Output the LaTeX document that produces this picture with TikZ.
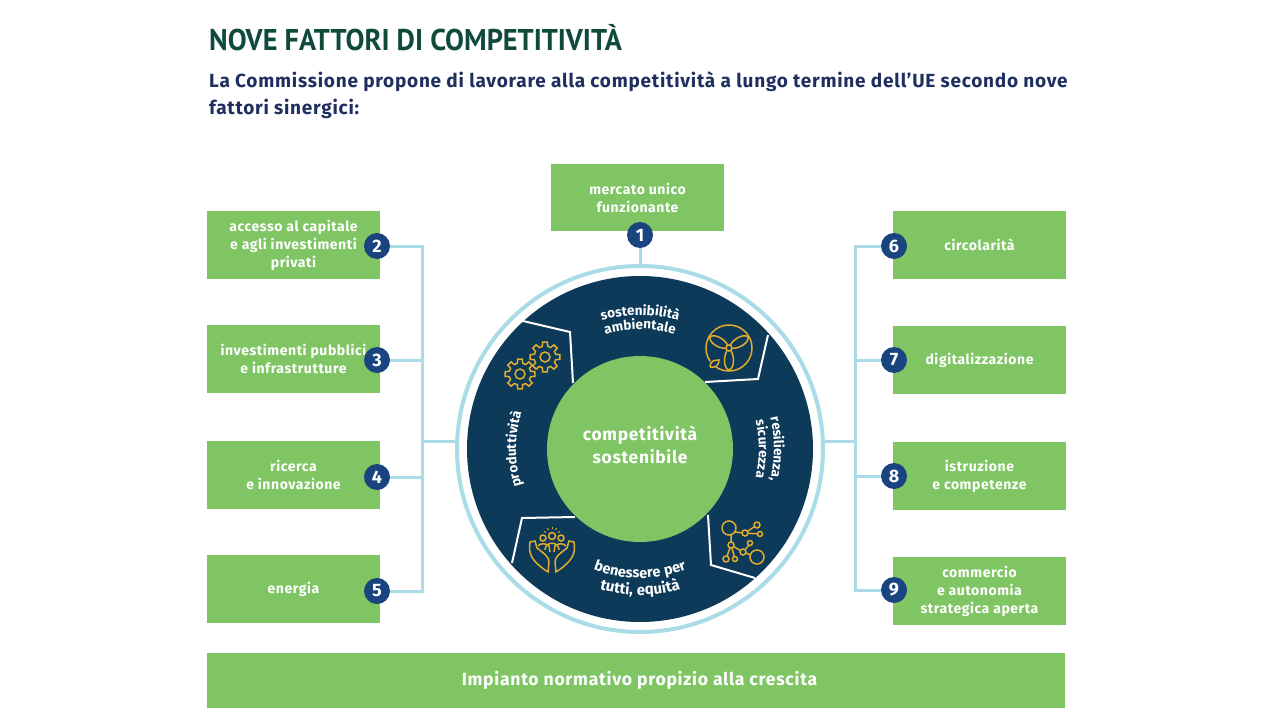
\documentclass[tikz,border=0pt]{standalone}
\usepackage{fontspec}
\usepackage{xcolor}
\usetikzlibrary{decorations.text}
\setmainfont[LetterSpace=4]{Fira Sans}
\newfontfamily\headfont[FakeStretch=0.943]{PT Sans}
\definecolor{leafgreen}{HTML}{80C564}
\definecolor{deepnavy}{HTML}{0E3A5A}
\definecolor{badgeblue}{HTML}{1A4480}
\definecolor{wirecyan}{HTML}{A9DCE6}
\definecolor{iconGold}{HTML}{E0AC2F}
\definecolor{titlegreen}{HTML}{0F4A3C}
\definecolor{leadnavy}{HTML}{1F2F5F}
\newcommand{\boxfont}{\bfseries\fontsize{14}{18}\selectfont}
\newcommand{\arclabel}[5]{
    \path[decorate,decoration={text along path,text color=white,text align=center,
        text={|\bfseries\fontsize{#5}{#5}\selectfont|#4}}]
        (#2:#1) arc[start angle=#2,end angle=#3,radius=#1pt];
}
\begin{document}
\begin{tikzpicture}[x=1pt,y=-1pt,
        factor/.style={fill=leafgreen,text=white,minimum width=173pt,minimum height=68pt,
            inner sep=0pt,align=center,font=\boxfont},
        badge/.style={circle,fill=badgeblue,text=white,minimum size=26pt,inner sep=0pt,
            font=\bfseries\fontsize{18}{18}\selectfont},
        link/.style={draw=wirecyan,line width=3pt},
        separator/.style={draw=white,line width=2pt},
        icon/.style={draw=iconGold,line width=1.5pt}
    ]
    \useasboundingbox (0,0) rectangle (1280,720);
    \fill[white] (0,0) rectangle (1280,720);

    \node[anchor=base west,inner sep=0pt,text=titlegreen,font=\headfont\bfseries\fontsize{30}{30}\selectfont] (title) at (209,50) {NOVE FATTORI DI COMPETITIVITÀ};
    \node[anchor=north west,inner sep=0pt,text=leadnavy,align=left,font=\bfseries\fontsize{19}{27}\selectfont] (lead) at (209,71) {La Commissione propone di lavorare alla competitività a lungo termine dell’UE secondo nove\\fattori sinergici:};

    \node[factor,minimum height=67pt] (market) at (637.5,197.5) {mercato unico\\funzionante};
    \node[factor] (capital) at (293.5,245) {accesso al capitale\\e agli investimenti\\privati};
    \node[factor] (public) at (293.5,359) {investimenti pubblici\\e infrastrutture};
    \node[factor] (research) at (293.5,475) {ricerca\\e innovazione};
    \node[factor] (energy) at (293.5,589) {energia};
    \node[factor] (circular) at (979.5,245) {circolarità};
    \node[factor] (digital) at (979.5,360) {digitalizzazione};
    \node[factor] (skills) at (979.5,476) {istruzione\\e competenze};
    \node[factor] (trade) at (979.5,591) {commercio\\e autonomia\\strategica aperta};
    \node[fill=leafgreen,text=white,minimum width=858pt,minimum height=55pt,inner sep=0pt,font=\bfseries\fontsize{17.6}{17.6}\selectfont] (rules) at (636,680.5) {\hspace*{7pt}Impianto normativo propizio alla crescita};

    \coordinate (leftbus) at (422,441);
    \coordinate (rightbus) at (855,441);

    \node[circle,draw=wirecyan,line width=4pt,fill=white,minimum size=366pt,inner sep=0pt] (ring) at (640,449) {};
    \node[circle,fill=deepnavy,minimum size=346pt,inner sep=0pt] (disk) at (640,449) {};

    \draw[separator] (523,321) -- (570,332) -- (573,383);
    \draw[separator] (768,335) -- (758,379) -- (705,382);
    \draw[separator] (755,578) -- (711,565) -- (708,515);
    \draw[separator] (512,563) -- (522,518) -- (575,517);

    \node[circle,fill=leafgreen,minimum size=186pt,inner sep=0pt] (core) at (640,449) {};
    \node[text=white,inner sep=0pt,align=center,font=\bfseries\fontsize{17.4}{23}\selectfont] (corelabel) at (640,445) {competitività\\sostenibile};

    \begin{scope}[shift={(640,449)},x=1pt,y=1pt]
        \arclabel{134}{125}{55}{sostenibilità}{13.5}
        \arclabel{120}{125}{55}{ambientale}{13.5}
        \arclabel{134}{40}{-40}{resilienza,}{13.5}
        \arclabel{119}{40}{-40}{sicurezza}{13.5}
        \arclabel{129}{230}{310}{benessere per}{14.5}
        \arclabel{146}{235}{305}{tutti, equità}{15}
        \arclabel{124}{220}{140}{produttività}{13.5}
    \end{scope}

    % gears
    \foreach \gx/\gy in {545/357,520/374}{
        \draw[icon,shift={(\gx,\gy)}] (-14:11) \foreach \ang in {0,45,...,315}{
            -- (\ang-14:11) -- (\ang-9:15) -- (\ang+9:15) -- (\ang+14:11)} -- cycle;
        \draw[icon] (\gx,\gy) circle[radius=5pt];
    }

    % turbine
    \draw[icon] (729,348) ++(215:23pt) arc[start angle=215,end angle=-125,radius=23pt];
    \foreach \ang in {30,150,270}{
        \draw[icon,rotate around={\ang:(729,348)}] (729,348) .. controls (735,342) and (749,342) .. (751,348) .. controls (749,354) and (735,354) .. (729,348);
    }
    \draw[icon,fill=deepnavy] (729,348) circle[radius=3pt];
    \draw[icon] (710,367) .. controls (710,361) and (714,360) .. (719,360) .. controls (719,365) and (716,368) .. (710,367);

    % network
    \draw[icon] (735,532) -- (745,533) -- (757,525) (745,533) -- (760,534);
    \draw[icon] (731,535) -- (731,545) -- (726,559) (731,545) -- (735,559);
    \draw[icon] (743,552) -- (750,544) (743,552) -- (751,555) (731,545) -- (743,552);
    \foreach \nx/\ny/\nr in {729/528/7,757/557/7,745/533/3,757/525/3,760/534/2.5,731/545/3,726/559/3,735/559/2.5,743/552/3,750/543/2.5}{
        \draw[icon,fill=deepnavy] (\nx,\ny) circle[radius=\nr pt];
    }

    % hands
    \foreach \side in {1,-1}{
        \begin{scope}[shift={(552,0)},xscale=\side]
            \draw[icon] (22,542) .. controls (24,553) and (21,561) .. (4,572) -- (3,562) .. controls (3,556) and (9,553) .. (15,548) -- (17,541) -- (22,542);
            \draw[icon] (9,538) circle[radius=3pt];
            \draw[icon] (2,552) -- (3,546) .. controls (6,543) and (12,543) .. (14,546);
        \end{scope}
    }
    \draw[icon] (552,536) circle[radius=3.5pt];
    \draw[icon] (545,550) .. controls (545,541) and (559,541) .. (559,550);
    \foreach \ang in {-150,-120,-90,-60,-30}{
        \draw[icon,line width=1pt,shift={(552,536)}] (\ang:7) -- (\ang:9);
    }

    \node[badge] (n1) at (640,235) {1};
    \node[badge] (n2) at (377,246) {2};
    \node[badge] (n3) at (377,360) {3};
    \node[badge] (n4) at (377,477) {4};
    \node[badge] (n5) at (377,591) {5};
    \node[badge] (n6) at (894,246) {6};
    \node[badge] (n7) at (894,360) {7};
    \node[badge] (n8) at (894,476) {8};
    \node[badge] (n9) at (894,590) {9};

    \draw[link] (n1) -- (ring);
    \draw[link] (n2) -| (leftbus);
    \draw[link] (n5) -| (leftbus);
    \draw[link] (n3) -- (n3 -| leftbus);
    \draw[link] (n4) -- (n4 -| leftbus);
    \draw[link] (leftbus) -- (leftbus -| ring.west);
    \draw[link] (n6) -| (rightbus);
    \draw[link] (n9) -| (rightbus);
    \draw[link] (n7) -- (n7 -| rightbus);
    \draw[link] (n8) -- (n8 -| rightbus);
    \draw[link] (rightbus) -- (rightbus -| ring.east);
\end{tikzpicture}
\end{document}
